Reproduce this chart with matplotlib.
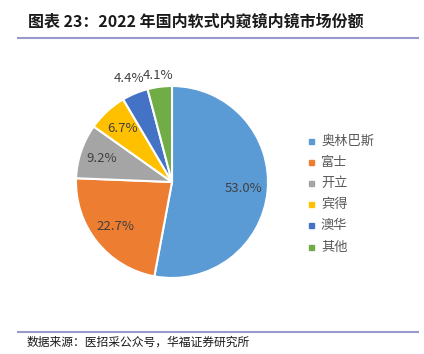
import matplotlib
matplotlib.use("Agg")
import matplotlib.pyplot as plt
import numpy as np

plt.rcParams['font.family'] = ['Noto Sans CJK SC', 'DejaVu Sans']

categories = ['奥林巴斯', '富士', '开立', '宾得', '澳华', '其他']
values = [53.0, 22.7, 9.2, 6.7, 4.4, 4.1]
labels = ['53.0%', '22.7%', '9.2%', '6.7%', '4.4%', '4.1%']
colors = ['#5B9BD5', '#ED7D31', '#A5A5A5', '#FFC000', '#4472C4', '#70AD47']

W, H = 424, 354
fig = plt.figure(figsize=(W / 100, H / 100), dpi=100)

# pie axes: center (172,182), radius ~96 px
r = 96
cx, cy = 172, 182
ax = fig.add_axes([(cx - r) / W, 1 - (cy + r) / H, 2 * r / W, 2 * r / H])
wedges, _ = ax.pie(values, colors=colors, startangle=90, counterclock=False,
                   wedgeprops=dict(edgecolor='white', linewidth=1.5))
ax.set_aspect('equal')
ax.set_xlim(-1, 1)
ax.set_ylim(-1, 1)

dists = [0.75, 0.75, 0.77, 0.76, 1.17, 1.12]
for w, lab, d in zip(wedges, labels, dists):
    ang = np.deg2rad((w.theta1 + w.theta2) / 2)
    ax.text(d * np.cos(ang), d * np.sin(ang), lab, ha='center', va='center',
            fontsize=9.5, color='#404040')

# legend
for i, (cat, col) in enumerate(zip(categories, colors)):
    y = 1 - (141 + i * 21.2) / H
    fig.patches.append(plt.Rectangle((309 / W, y - 2.5 / H), 5 / W, 5 / H,
                                     transform=fig.transFigure, color=col))
    fig.text(321 / W, y, cat, fontsize=9.5, color='#595959', va='center', ha='left')

# title
fig.text(28 / W, 1 - 22 / H, '图表 23：2022 年国内软式内窥镜内镜市场份额',
         fontsize=11.5, fontweight='bold', color='#1a1a1a', va='center', ha='left')
fig.add_artist(plt.Line2D([18 / W, 418 / W], [1 - 38 / H, 1 - 38 / H],
                          color='#9999cc', linewidth=1.5, transform=fig.transFigure))
# footer
fig.add_artist(plt.Line2D([18 / W, 418 / W], [1 - 332 / H, 1 - 332 / H],
                          color='#9999cc', linewidth=1.5, transform=fig.transFigure))
fig.text(27 / W, 1 - 342 / H, '数据来源：医招采公众号，华福证券研究所',
         fontsize=8.5, color='#1a1a1a', va='center', ha='left')

fig.savefig('out.png', dpi=100)
